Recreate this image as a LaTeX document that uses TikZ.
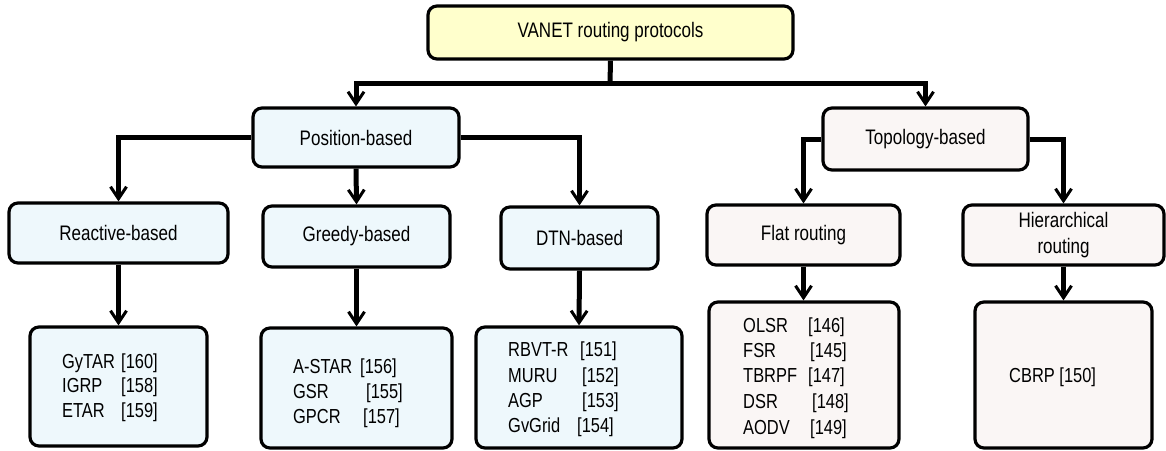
\documentclass[tikz,border=0pt]{standalone}
\usepackage{fontspec}
\setmainfont[FakeStretch=0.81]{Liberation Sans}
\usetikzlibrary{arrows.meta}
\definecolor{rootfill}{HTML}{FFFFCC}
\definecolor{posfill}{HTML}{EEF8FC}
\definecolor{topofill}{HTML}{FAF6F5}
\tikzset{
  box/.style={draw=black, line width=3.2pt, rounded corners=9pt, inner sep=0pt,
    font=\fontsize{21}{26}\selectfont, align=center},
  posbox/.style={box, fill=posfill},
  topobox/.style={box, fill=topofill},
  conn/.style={line width=5pt},
  arr/.style={conn, -{Straight Barb[length=12pt,width=16pt,line width=3pt]}},
  lbl/.style={inner sep=0pt, anchor=west, font=\fontsize{20.3}{25}\selectfont,
    text height=14pt, text depth=4pt}
}
\newcommand{\lst}[3]{\makebox[#1pt][l]{#2}#3}
\begin{document}
\begin{tikzpicture}[x=1pt,y=-1pt]
\useasboundingbox (0,0) rectangle (1166,450);
% boxes
\node[box, fill=rootfill, minimum width=365pt, minimum height=53pt] (root) at (610.5,32.5) {VANET routing protocols};
\node[posbox, minimum width=206pt, minimum height=59pt] (pos) at (356,137.5) {Position-based};
\node[topobox, minimum width=205pt, minimum height=62pt] (topo) at (925.5,139) {Topology-based};
\node[posbox, minimum width=219pt, minimum height=60pt] (react) at (118.5,233) {Reactive-based};
\node[posbox, minimum width=187pt, minimum height=61pt] (greedy) at (356.5,236.5) {Greedy-based};
\node[posbox, minimum width=157pt, minimum height=62pt] (dtn) at (579.5,238) {DTN-based};
\node[topobox, minimum width=193pt, minimum height=60pt] (flat) at (803.5,235) {Flat routing};
\node[topobox, minimum width=201pt, minimum height=60pt] (hier) at (1063.5,235) {Hierarchical\\routing};
\node[posbox, minimum width=177pt, minimum height=119pt] (reactL) at (118.5,386.5) {};
\node[posbox, minimum width=191pt, minimum height=120pt] (greedyL) at (356.5,388) {};
\node[posbox, minimum width=206pt, minimum height=121pt] (dtnL) at (579,387.5) {};
\node[topobox, minimum width=190pt, minimum height=146pt] (flatL) at (804,375) {};
\node[topobox, minimum width=177pt, minimum height=146pt] (hierL) at (1063.5,375) {};
% list texts
\node[lbl] (r1) at (62,363) {\lst{59}{GyTAR}{[160]}};
\node[lbl] (r2) at (62,387) {\lst{59}{IGRP}{[158]}};
\node[lbl] (r3) at (62,412) {\lst{59}{ETAR}{[159]}};
\node[lbl] (g1) at (293,368) {\lst{67}{A-STAR}{[156]}};
\node[lbl] (g2) at (293,393) {\lst{73}{GSR}{[155]}};
\node[lbl] (g3) at (293,418) {\lst{70}{GPCR}{[157]}};
\node[lbl] (d1) at (508,351) {\lst{72}{RBVT-R}{[151]}};
\node[lbl] (d2) at (508,377) {\lst{74}{MURU}{[152]}};
\node[lbl] (d3) at (508,402) {\lst{74}{AGP}{[153]}};
\node[lbl] (d4) at (508,427) {\lst{69}{GvGrid}{[154]}};
\node[lbl] (f1) at (743,327) {\lst{65}{OLSR}{[146]}};
\node[lbl] (f2) at (743,352) {\lst{67}{FSR}{[145]}};
\node[lbl] (f3) at (743,377) {\lst{65}{TBRPF}{[147]}};
\node[lbl] (f4) at (743,403) {\lst{69}{DSR}{[148]}};
\node[lbl] (f5) at (743,429) {\lst{67}{AODV}{[149]}};
\node[lbl] (h1) at (1009,377) {CBRP [150]};
% connectors
\coordinate (bar) at (610,83);
\draw[conn] (root.south) -- (bar);
\draw[arr] (bar) -| (pos.north);
\draw[arr] (bar) -| (topo.north);
\draw[arr] (pos.west) -| (react.north);
\draw[arr] (pos.south) -- (greedy.north);
\draw[arr] (pos.east) -| (dtn.north);
\draw[arr] (topo.west) -| (flat.north);
\draw[arr] (topo.east) -| (hier.north);
\draw[arr] (react.south) -- (reactL.north);
\draw[arr] (greedy.south) -- (greedyL.north);
\draw[arr] (dtn.south) -- (dtnL.north);
\draw[arr] (flat.south) -- (flatL.north -| flat.south);
\draw[arr] (hier.south) -- (hierL.north);
\end{tikzpicture}
\end{document}
